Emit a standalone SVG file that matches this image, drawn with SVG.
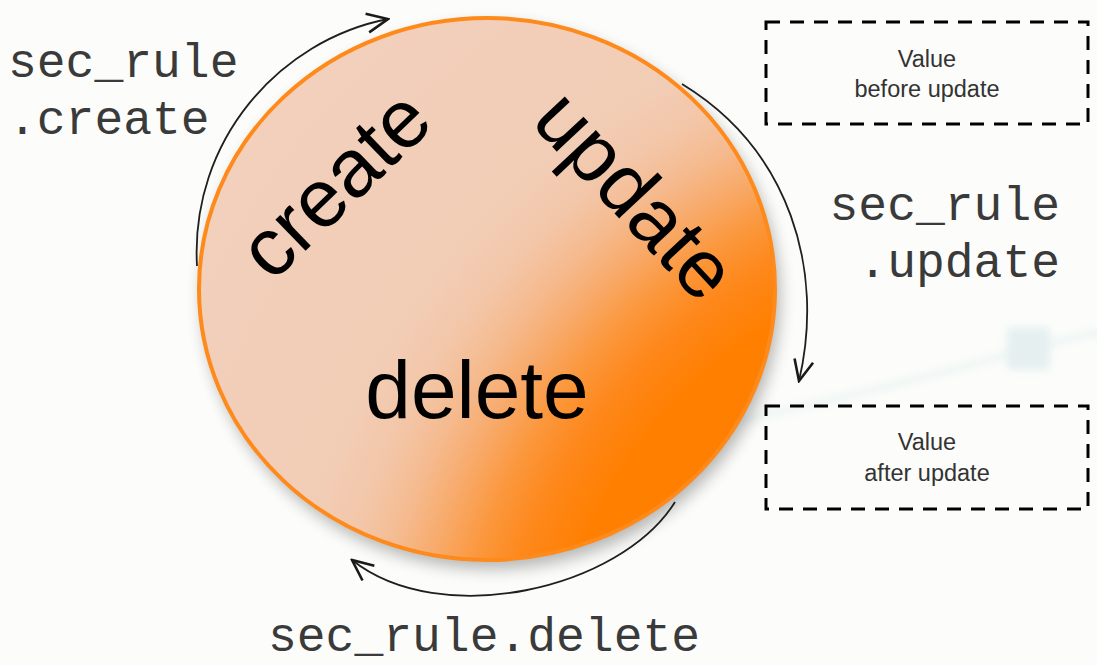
<svg xmlns="http://www.w3.org/2000/svg" width="1097" height="665" viewBox="0 0 1097 665">
  <defs>
    <radialGradient id="orb" gradientUnits="userSpaceOnUse" cx="1034" cy="740" r="1000">
      <stop offset="0" stop-color="#ff7c00"/>
      <stop offset="0.49" stop-color="#ff7f00"/>
      <stop offset="0.545" stop-color="#fe881c"/>
      <stop offset="0.585" stop-color="#fb973c"/>
      <stop offset="0.625" stop-color="#f8a968"/>
      <stop offset="0.665" stop-color="#f5ba8e"/>
      <stop offset="0.705" stop-color="#f3c6a8"/>
      <stop offset="0.755" stop-color="#f2cdb6"/>
      <stop offset="1" stop-color="#f2d0bc"/>
    </radialGradient>
    <filter id="blur8" x="-20%" y="-20%" width="140%" height="140%">
      <feGaussianBlur stdDeviation="8"/>
    </filter>
    <filter id="blur4" x="-50%" y="-50%" width="200%" height="200%">
      <feGaussianBlur stdDeviation="4"/>
    </filter>
    <marker id="arrow" viewBox="0 0 24 22" refX="22" refY="11" markerWidth="24" markerHeight="22" markerUnits="userSpaceOnUse" orient="auto">
      <path d="M1,1.5 L22,11 L1,20.5" fill="none" stroke="#1a1a1a" stroke-width="2.6" stroke-linejoin="miter"/>
    </marker>
  </defs>
  <style>
    .mono { font-family: "Liberation Mono", "Courier New", monospace; font-size: 48px; fill: #3a3a3a; }
    .big { font-family: "Liberation Sans", Arial, sans-serif; font-size: 82px; fill: #000; }
    .box { fill: none; stroke: #000; stroke-width: 3; stroke-dasharray: 14 10; }
    .boxtext { font-family: "Liberation Sans", Arial, sans-serif; font-size: 23.5px; fill: #333; text-anchor: middle; }
    .conn { fill: none; stroke: #1f1f1f; stroke-width: 1.8; marker-end: url(#arrow); }
  </style>

  <rect x="0" y="0" width="1097" height="665" fill="#fcfdfa"/>

  <!-- faint background decoration -->
  <g id="background-deco" opacity="0.6">
    <path d="M720,425 Q860,395 1000,357 T1097,337" fill="none" stroke="#e2eef1" stroke-width="7" filter="url(#blur4)"/>
    <rect x="1007" y="327" width="43" height="43" fill="#d6e6ea" filter="url(#blur4)"/>
  </g>

  <!-- main circle node -->
  <g id="lifecycle">
    <ellipse cx="491" cy="297" rx="289" ry="272" fill="#000" opacity="0.28" filter="url(#blur8)"/>
    <ellipse cx="487" cy="289" rx="288" ry="271" fill="url(#orb)" stroke="#ff8a1c" stroke-width="4"/>
    <text class="big" x="354" y="204" text-anchor="middle" transform="rotate(-44 354 204)">create</text>
    <text class="big" x="615" y="214" text-anchor="middle" transform="rotate(47 615 214)">update</text>
    <text class="big" x="477" y="418" text-anchor="middle">delete</text>
  </g>

  <!-- connectors -->
  <g id="connectors">
    <path class="conn" d="M197,266 C190,140 280,40 388,19"/>
    <path class="conn" d="M682,84 C790,150 825,270 799,381"/>
    <path class="conn" d="M675,502 C620,590 440,630 352,560"/>
  </g>

  <!-- labels -->
  <g id="label-create">
    <text class="mono" x="8" y="77">sec_rule</text>
    <text class="mono" x="8" y="134">.create</text>
  </g>
  <g id="label-update">
    <text class="mono" x="1060" y="220" text-anchor="end">sec_rule</text>
    <text class="mono" x="1060" y="277" text-anchor="end">.update</text>
  </g>
  <g id="label-delete">
    <text class="mono" x="268" y="651">sec_rule.delete</text>
  </g>

  <!-- value boxes -->
  <g id="box-before">
    <rect class="box" x="766" y="22" width="322" height="102"/>
    <text class="boxtext" x="927" y="67">Value</text>
    <text class="boxtext" x="927" y="97">before update</text>
  </g>
  <g id="box-after">
    <rect class="box" x="766" y="406" width="322" height="103"/>
    <text class="boxtext" x="927" y="450">Value</text>
    <text class="boxtext" x="927" y="481">after update</text>
  </g>
</svg>
